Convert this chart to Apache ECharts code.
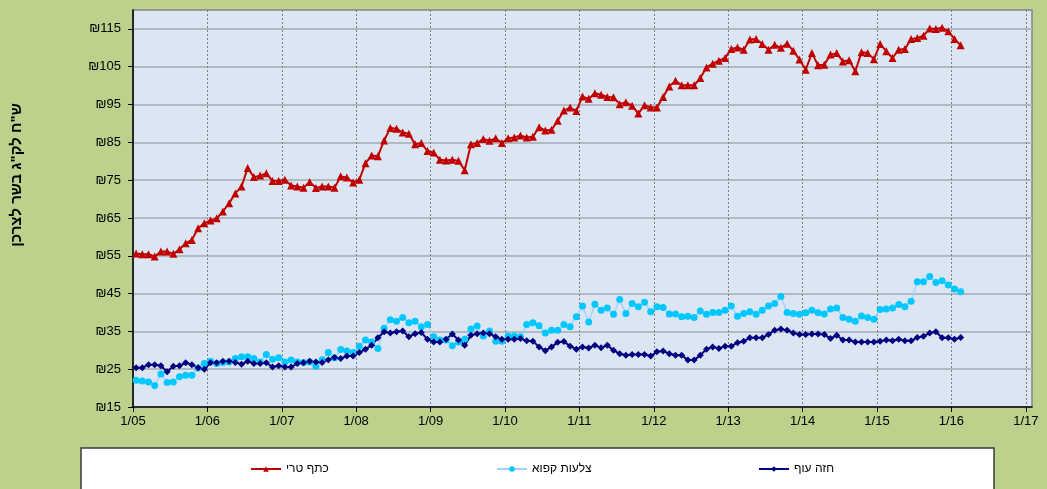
<!DOCTYPE html>
<html>
<head>
<meta charset="utf-8">
<script src="https://cdn.jsdelivr.net/npm/echarts@6/dist/echarts.min.js"></script>
<style>
  html, body { margin: 0; padding: 0; }
  #chart { width: 1047px; height: 489px; }
</style>
</head>
<body>
<div id="chart"></div>
<script>
// monthly prices, Jan 2005 .. Feb 2016 (index 0 = 1/05)
var xTickLabels = ['1/05', '1/06', '1/07', '1/08', '1/09', '1/10', '1/11', '1/12', '1/13', '1/14', '1/15', '1/16', '1/17'];
var yTicks = [15, 25, 35, 45, 55, 65, 75, 85, 95, 105, 115];
var seriesNames = ['כתף טרי', 'צלעות קפוא', 'חזה עוף'];

var shoulder = [
  55.6, 55.4, 55.4, 54.8, 56.1, 56.1, 55.5, 56.7, 58.3, 59.2,
  62.3, 63.6, 64.3, 64.9, 66.7, 68.9, 71.5, 73.3, 78.2, 75.8,
  76.2, 76.8, 74.8, 74.8, 75.1, 73.6, 73.3, 73.0, 74.5, 72.9,
  73.3, 73.3, 73.0, 76.0, 75.7, 74.4, 75.1, 79.5, 81.5, 81.3,
  85.5, 88.8, 88.6, 87.6, 87.3, 84.5, 84.8, 82.7, 82.3, 80.4,
  80.2, 80.4, 80.1, 77.6, 84.5, 84.8, 85.9, 85.4, 86.1, 84.8,
  86.1, 86.3, 86.8, 86.3, 86.5, 89.0, 88.1, 88.3, 90.7, 93.4,
  94.2, 93.3, 97.1, 96.5, 98.0, 97.6, 97.0, 96.9, 95.1, 95.6,
  94.7, 92.6, 94.8, 94.2, 94.2, 97.0, 99.8, 101.3, 100.1, 100.1,
  100.1, 102.0, 104.8, 105.8, 106.6, 107.3, 109.7, 110.1, 109.5, 112.2,
  112.3, 111.0, 109.5, 110.8, 110.0, 111.1, 109.2, 106.9, 104.2, 108.6,
  105.4, 105.5, 108.2, 108.6, 106.4, 106.7, 103.8, 108.8, 108.6, 107.0,
  111.0, 109.1, 107.3, 109.5, 109.7, 112.3, 112.6, 113.2, 115.1, 115.0,
  115.3, 114.4, 112.3, 110.7
];
var ribs = [
  22.1, 21.9, 21.6, 20.7, 23.7, 21.5, 21.6, 23.0, 23.4, 23.4,
  25.3, 26.5, 27.1, 26.5, 26.8, 26.9, 27.8, 28.3, 28.3, 27.8,
  26.9, 28.9, 27.6, 28.0, 26.9, 27.4, 26.9, 26.8, 26.9, 25.8,
  27.5, 29.4, 28.0, 30.2, 29.8, 29.4, 31.1, 32.7, 32.2, 30.5,
  35.8, 38.1, 37.7, 38.7, 37.3, 37.7, 36.2, 36.8, 33.6, 32.7,
  32.7, 31.2, 32.2, 32.9, 35.6, 36.4, 33.8, 35.1, 32.4, 32.4,
  33.8, 33.8, 33.6, 36.8, 37.3, 36.5, 34.6, 35.3, 35.3, 36.8,
  36.2, 38.9, 41.7, 37.5, 42.2, 40.6, 41.2, 39.5, 43.4, 39.7,
  42.4, 41.5, 42.7, 40.2, 41.5, 41.3, 39.6, 39.6, 38.9, 39.0,
  38.7, 40.4, 39.5, 40.0, 40.0, 40.6, 41.7, 39.0, 39.7, 40.2,
  39.5, 40.6, 41.7, 42.4, 44.2, 40.0, 39.7, 39.5, 39.9, 40.6,
  39.9, 39.6, 40.9, 41.2, 38.7, 38.2, 37.7, 39.1, 38.7, 38.2,
  40.8, 40.9, 41.2, 42.1, 41.5, 43.0, 48.1, 48.1, 49.5, 47.9,
  48.4, 47.3, 46.2, 45.5
];
var breast = [
  25.4, 25.4, 26.2, 26.2, 25.9, 24.3, 25.8, 25.9, 26.7, 26.2,
  25.4, 25.0, 26.7, 26.7, 27.1, 27.1, 26.8, 26.3, 27.1, 26.5,
  26.5, 26.7, 25.6, 25.9, 25.6, 25.6, 26.5, 26.7, 27.1, 26.9,
  26.8, 27.5, 28.1, 27.8, 28.5, 28.5, 29.4, 30.3, 31.3, 33.3,
  34.9, 34.6, 34.9, 35.1, 33.6, 34.4, 34.7, 32.9, 32.2, 32.2,
  32.9, 34.3, 32.7, 31.3, 34.0, 34.4, 34.6, 34.4, 33.6, 32.9,
  32.9, 32.9, 33.1, 32.5, 32.4, 30.9, 29.9, 30.9, 32.1, 32.3,
  31.1, 30.3, 30.9, 30.6, 31.3, 30.7, 31.3, 30.0, 29.1, 28.7,
  28.9, 28.9, 28.9, 28.5, 29.6, 29.8, 29.1, 28.7, 28.7, 27.4,
  27.4, 28.7, 30.3, 30.9, 30.5, 31.1, 31.1, 32.0, 32.4, 33.3,
  33.3, 33.3, 34.2, 35.3, 35.6, 35.3, 34.6, 34.2, 34.2, 34.3,
  34.3, 34.2, 33.1, 34.0, 32.7, 32.7, 32.2, 32.2, 32.2, 32.2,
  32.4, 32.7, 32.5, 32.9, 32.5, 32.5, 33.4, 33.7, 34.6, 34.9,
  33.3, 33.3, 32.9, 33.4
];

// each month is plotted mid-month on a months-since-1/05 axis
function toPoints(arr) {
  return arr.map(function (v, i) { return [i + 0.5, v]; });
}

var font = 'Liberation Sans, Arial, sans-serif';
var chart = echarts.init(document.getElementById('chart'));

var option = {
  animation: false,
  backgroundColor: '#bbd18c',
  textStyle: { fontFamily: font },
  grid: {
    left: 133, top: 10, width: 899, height: 397,
    show: true,
    backgroundColor: '#dce6f2',
    borderColor: '#858585',
    borderWidth: 1.5
  },
  xAxis: {
    type: 'value',
    min: 0,
    max: 145,
    interval: 12,
    axisLine: { lineStyle: { color: '#000', width: 1.5 } },
    axisTick: { inside: false, length: 5, lineStyle: { color: '#000' },
      customValues: xTickLabels.map(function (l, i) { return i * 12; }) },
    axisLabel: {
      margin: 8,
      color: '#000',
      fontSize: 13,
      fontFamily: font,
      formatter: function (v) { return xTickLabels[v / 12] || ''; }
    },
    splitLine: { show: true, lineStyle: { color: '#7a7f86', type: [2, 2], width: 1 } }
  },
  yAxis: {
    type: 'value',
    min: 15,
    max: 120,
    interval: 10,
    axisLine: { show: true, lineStyle: { color: '#000', width: 1.5 } },
    axisTick: { show: true, inside: false, length: 5, lineStyle: { color: '#000' },
      customValues: yTicks },
    axisLabel: {
      margin: 12,
      color: '#000',
      fontSize: 13,
      fontFamily: font,
      formatter: function (v) { return yTicks.indexOf(v) >= 0 ? '₪' + v : ''; }
    },
    splitLine: { show: true, lineStyle: { color: '#b1b9c3', width: 2 } }
  },
  legend: [
    { data: [seriesNames[0]], left: 245, top: 458 },
    { data: [seriesNames[1]], left: 491, top: 458 },
    { data: [seriesNames[2]], left: 753, top: 458 }
  ].map(function (l) {
    l.itemWidth = 30;
    l.itemHeight = 7;
    l.itemGap = 0;
    l.textStyle = { color: '#000', fontSize: 12, fontFamily: font };
    return l;
  }),
  graphic: [
    {
      type: 'rect', z: 0,
      shape: { x: 81, y: 448, width: 913, height: 60 },
      style: { fill: '#ffffff', stroke: '#3a3a3a', lineWidth: 1.5 }
    },
    {
      type: 'text',
      x: 17, y: 175,
      rotation: Math.PI / 2,
      style: {
        text: 'ש"ח לק"ג בשר לצרכן',
        fill: '#000',
        font: 'bold 15px ' + font,
        align: 'center',
        verticalAlign: 'middle'
      }
    }
  ],
  series: [
    {
      name: seriesNames[0], type: 'line', data: toPoints(shoulder),
      symbol: 'triangle', symbolSize: 8,
      lineStyle: { color: '#c00000', width: 2 },
      itemStyle: { color: '#c00000' }
    },
    {
      name: seriesNames[1], type: 'line', data: toPoints(ribs),
      symbol: 'circle', symbolSize: 7,
      lineStyle: { color: '#a3d0ff', width: 1.5 },
      itemStyle: { color: '#00c8ff' }
    },
    {
      name: seriesNames[2], type: 'line', data: toPoints(breast),
      symbol: 'diamond', symbolSize: 7,
      lineStyle: { color: '#000080', width: 2 },
      itemStyle: { color: '#000080' }
    }
  ]
};
chart.setOption(option);
</script>
</body>
</html>
